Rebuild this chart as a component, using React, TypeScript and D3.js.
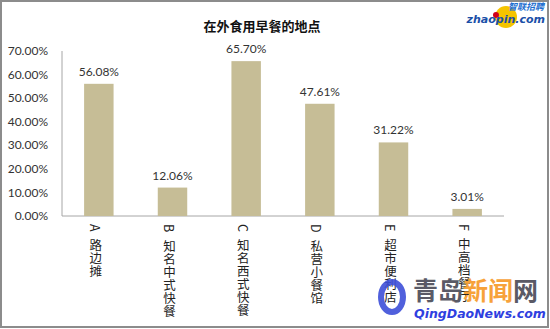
import * as d3 from "d3";

const categories = ["A 路边摊", "B 知名中式快餐", "C 知名西式快餐", "D 私营小餐馆", "E 超市便利店", "F 中高档餐厅"];
const values = [56.08, 12.06, 65.7, 47.61, 31.22, 3.01];
const yTicks = [0, 10, 20, 30, 40, 50, 60, 70];

const width = 550;
const height = 329;
const margin = { top: 51, right: 46, bottom: 113, left: 62 };

export default function App() {
  const innerW = width - margin.left - margin.right;
  const innerH = height - margin.top - margin.bottom;

  const x = d3.scaleBand<string>().domain(categories).range([0, innerW]).paddingInner(0.6).paddingOuter(0.3);
  const y = d3.scaleLinear().domain([0, 70]).range([innerH, 0]);

  const numFont = "Lato, 'Noto Sans', sans-serif";
  const cjkFont = "'Noto Sans CJK SC', sans-serif";

  return (
    <svg width={width} height={height} style={{ position: "absolute", left: 0, top: 0, background: "#fff" }}>
      <rect x={1} y={1} width={width - 3} height={height - 3} fill="#fff" stroke="#8c8c8c" strokeWidth={2} />

      <text x={262} y={31} textAnchor="middle" fontFamily={cjkFont} fontSize={13} fontWeight="bold" fill="#111">
        在外食用早餐的地点
      </text>

      <g transform={`translate(${margin.left},${margin.top})`}>
        {yTicks.map((t) => (
          <text key={t} x={-14} y={y(t)} dy="0.35em" textAnchor="end" fontFamily={numFont} fontSize={12} fill="#333">
            {t.toFixed(2)}%
          </text>
        ))}
        <line x1={0} x2={0} y1={0} y2={innerH} stroke="#a6a6a6" />
        <line x1={0} x2={innerW} y1={innerH} y2={innerH} stroke="#a6a6a6" />

        {categories.map((c, i) => {
          const [letter, ...rest] = c.split(" ");
          const cx = (x(c) ?? 0) + x.bandwidth() / 2;
          return (
            <g key={c}>
              <rect x={x(c)} y={y(values[i])} width={x.bandwidth()} height={innerH - y(values[i])} fill="#c6bd96" />
              <text x={cx} y={y(values[i]) - 8} textAnchor="middle" fontFamily={numFont} fontSize={12} fill="#333">
                {values[i].toFixed(2)}%
              </text>
              <text
                x={cx - 3}
                y={innerH + 8}
                fontFamily={cjkFont}
                fontSize={12.5}
                fill="#222"
                letterSpacing={0.5}
                style={{ writingMode: "vertical-rl" }}
              >
                <tspan>{letter}</tspan>
                <tspan dy={7}>{rest.join(" ")}</tspan>
              </text>
            </g>
          );
        })}
      </g>

      {/* zhaopin logo */}
      <circle cx={506} cy={17} r={11} fill="#f5c400" />
      <circle cx={496} cy={15} r={3} fill="#d0001b" />
      <text x={544} y={10} textAnchor="end" fontFamily={cjkFont} fontSize={9} fontStyle="italic" fontWeight="bold" fill="#1d6fd0">
        智联招聘
      </text>
      <text x={545} y={23} textAnchor="end" fontFamily="'DejaVu Sans', sans-serif" fontSize={11} fontStyle="italic" fontWeight="bold" fill="#1a4fa8">
        zhaopin.com
      </text>

      {/* qingdaonews watermark */}
      <ellipse cx={392} cy={297} rx={11} ry={15} fill="none" stroke="#3d4fd8" strokeWidth={6} opacity={0.9} />
      <text x={413} y={300} fontFamily={cjkFont} fontSize={25} fontWeight="bold" fill="#5a5a66">
        青岛
      </text>
      <text x={463} y={300} fontFamily={cjkFont} fontSize={25} fontWeight="bold" fill="#f7a23a">
        新闻
      </text>
      <text x={513} y={300} fontFamily={cjkFont} fontSize={25} fontWeight="bold" fill="#5a5a66">
        网
      </text>
      <text x={414} y={318} fontFamily="'DejaVu Sans', sans-serif" fontSize={12.5} fontStyle="italic" fontWeight="bold" fill="#2f3fe0">
        QingDaoNews.com
      </text>
    </svg>
  );
}
